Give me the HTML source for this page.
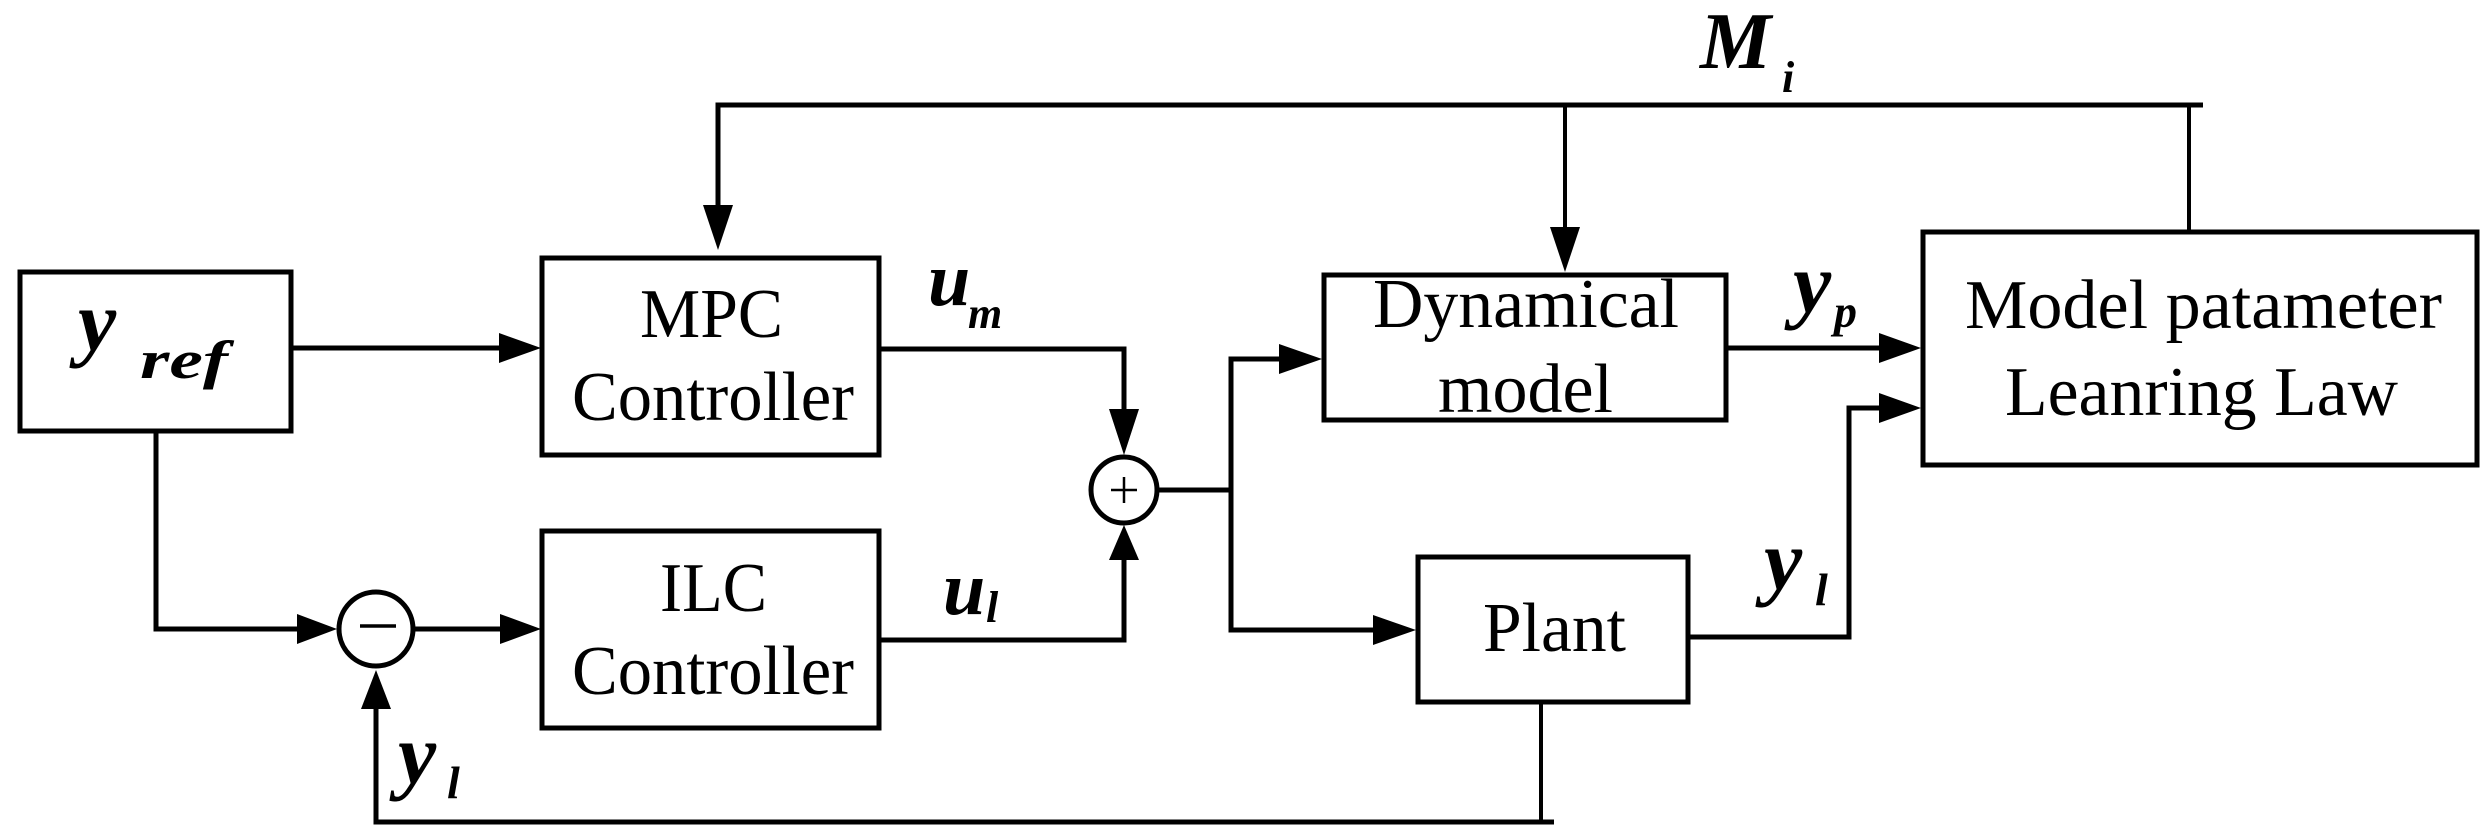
<!DOCTYPE html>
<html><head><meta charset="utf-8"><style>
html,body{margin:0;padding:0;background:#fff;}
svg{display:block;}
text{font-family:"Liberation Serif",serif;fill:#000;}
.b{font-size:70px;}
.m{font-style:italic;}
.v{font-weight:bold;}
</style></head><body>
<svg width="2492" height="840" viewBox="0 0 2492 840" xmlns="http://www.w3.org/2000/svg">
<g fill="none" stroke="#000" stroke-width="5">
<rect x="20" y="272" width="271" height="159"/>
<rect x="542" y="258" width="337" height="197"/>
<rect x="542" y="531" width="337" height="197"/>
<rect x="1324" y="275" width="402" height="145"/>
<rect x="1418" y="557" width="270" height="145"/>
<rect x="1923" y="232" width="554" height="233"/>
<circle cx="376" cy="629" r="37"/>
<circle cx="1124" cy="490" r="33"/>
<polyline points="718,230 718,105 2203,105"/>
<line x1="1565" y1="105" x2="1565" y2="240" stroke-width="4"/>
<line x1="2189" y1="105" x2="2189" y2="232" stroke-width="4"/>
<line x1="291" y1="348" x2="505" y2="348"/>
<polyline points="156,431 156,629 300,629"/>
<line x1="413" y1="629" x2="505" y2="629"/>
<polyline points="376,705 376,822 1554,822"/>
<line x1="1541" y1="702" x2="1541" y2="822" stroke-width="4"/>
<polyline points="879,349 1124,349 1124,412"/>
<polyline points="879,640 1124,640 1124,558"/>
<line x1="1157" y1="490" x2="1231" y2="490"/>
<polyline points="1285,359 1231,359 1231,630 1380,630"/>
<line x1="1726" y1="348" x2="1885" y2="348"/>
<polyline points="1688,637 1849,637 1849,408 1885,408"/>
</g>
<g stroke="#000" stroke-width="2.5">
<line x1="1111" y1="490" x2="1137" y2="490"/>
<line x1="1124" y1="477" x2="1124" y2="503"/>
<line x1="360" y1="626" x2="396" y2="626" stroke-width="3.5"/>
</g>
<g fill="#000">
<polygon points="718,250 703,205 733,205"/>
<polygon points="1565,272 1550,227 1580,227"/>
<polygon points="541,348 499,333 499,363"/>
<polygon points="337,629 297,614 297,644"/>
<polygon points="541,629 500,614 500,644"/>
<polygon points="1124,455 1109,409 1139,409"/>
<polygon points="1124,525 1109,560 1139,560"/>
<polygon points="376,670 361,709 391,709"/>
<polygon points="1322,359 1279,344 1279,374"/>
<polygon points="1416,630 1373,615 1373,645"/>
<polygon points="1921,348 1879,333 1879,363"/>
<polygon points="1921,408 1879,393 1879,423"/>
</g>
<text class="b" x="640" y="337" textLength="143" lengthAdjust="spacingAndGlyphs">MPC</text>
<text class="b" x="572" y="420" textLength="282" lengthAdjust="spacingAndGlyphs">Controller</text>
<text class="b" x="660" y="611" textLength="107" lengthAdjust="spacingAndGlyphs">ILC</text>
<text class="b" x="572" y="694" textLength="282" lengthAdjust="spacingAndGlyphs">Controller</text>
<text class="b" x="1373" y="327" textLength="306" lengthAdjust="spacingAndGlyphs">Dynamical</text>
<text class="b" x="1438" y="412" textLength="175" lengthAdjust="spacingAndGlyphs">model</text>
<text class="b" x="1483" y="651" textLength="143" lengthAdjust="spacingAndGlyphs">Plant</text>
<text class="b" x="1965" y="328" textLength="477" lengthAdjust="spacingAndGlyphs">Model patameter</text>
<text class="b" x="2005" y="415" textLength="393" lengthAdjust="spacingAndGlyphs">Leanring Law</text>
<text class="m v" x="78" y="350" font-size="86">y</text>
<text class="m v" x="140" y="378" font-size="54" textLength="88" lengthAdjust="spacingAndGlyphs">ref</text>
<text class="m v" x="928" y="305" font-size="76">u</text>
<text class="m v" x="968" y="328" font-size="44">m</text>
<text class="m v" x="943" y="614" font-size="76">u</text>
<text class="m v" x="986" y="622" font-size="44">l</text>
<text class="m v" x="398" y="783" font-size="86">y</text>
<text class="m v" x="447" y="798" font-size="46">l</text>
<text class="m v" x="1793" y="312" font-size="86">y</text>
<text class="m v" x="1834" y="327" font-size="46">p</text>
<text class="m v" x="1764" y="589" font-size="86">y</text>
<text class="m v" x="1815" y="605" font-size="46">l</text>
<text class="m v" x="1700" y="68" font-size="80">M</text>
<text class="m v" x="1782" y="92" font-size="44">i</text>
</svg>
</body></html>
